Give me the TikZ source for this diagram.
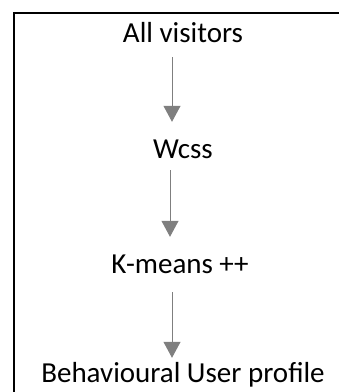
\documentclass[tikz,border=0pt]{standalone}
\usepackage{fontspec}
\setmainfont{Carlito}
\usepackage{xcolor}
\usepackage{tikz}
\usetikzlibrary{arrows.meta}
\usetikzlibrary{positioning}
\definecolor{C7}{HTML}{7F7F7F}
\tikzset{step label/.style={anchor=base, inner sep=0pt, text height=20pt, text depth=6pt, font=\fontsize{29}{35}\selectfont},
flow arrow/.style={C7, line width=1pt, -{Triangle[width=17pt,length=16pt]}}}
\begin{document}
\begin{tikzpicture}[x=1pt,y=1pt]
\def \boxLeft {14}
\def \boxTop {-13}
\useasboundingbox (0,0) rectangle (339,-392);
\draw[line width=2pt] (339,\boxTop)--(\boxLeft,\boxTop)--(\boxLeft,-393);
\node[step label] (visitors) at (183,-42) {All visitors};
\node[step label] (wcss) at (183,-158) {Wcss};
\node[step label] (kmeans) at (180,-273) {K-means ++};
\node[step label] (profile) at (183,-382) {Behavioural User profile};
\draw[flow arrow, shorten <=9pt, shorten >=16pt] ([xshift=-11pt]visitors.south)--([xshift=-11pt]visitors.south |- wcss.north);
\draw[flow arrow, shorten <=6pt, shorten >=16pt] ([xshift=-13pt]wcss.south)--([xshift=-13pt]wcss.south |- kmeans.north);
\draw[flow arrow, shorten <=13pt, shorten >=4pt] ([xshift=-8pt]kmeans.south)--([xshift=-8pt]kmeans.south |- profile.north);
\end{tikzpicture}
\end{document}
